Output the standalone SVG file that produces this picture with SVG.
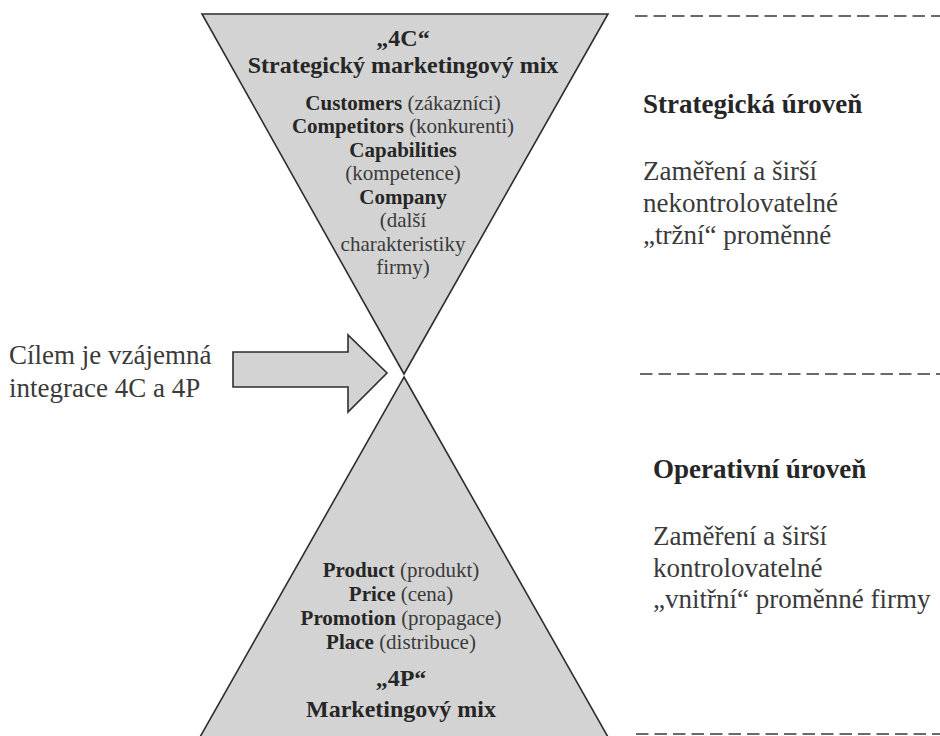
<svg xmlns="http://www.w3.org/2000/svg" width="940" height="736" viewBox="0 0 940 736">
<style>
.shape{fill:#d3d3d3;stroke:#2e2e2e;stroke-width:1.6;stroke-linejoin:miter}
.dash{stroke:#6a6a6a;stroke-width:2;stroke-dasharray:12.5 6;fill:none}
text{font-family:"Liberation Serif","Times New Roman",serif;fill:#262626}
.c{text-anchor:middle}
.b{font-weight:bold}
.h{font-size:24px;font-weight:bold}
.li{font-size:21px}
.lg{font-size:27px}
.r{font-weight:normal;fill:#3a3a3a}
</style>
<rect width="940" height="736" fill="#ffffff"/>
<g id="levels">
<line class="dash" x1="635" y1="16" x2="940" y2="16"/>
<line class="dash" x1="640" y1="374" x2="940" y2="374"/>
<line class="dash" x1="636" y1="734" x2="940" y2="734"/>
</g>
<g id="top-4c">
<polygon class="shape" points="202,14 608,14 404,374"/>
<text class="c h" x="403" y="46">„4C“</text>
<text class="c h" x="403" y="73">Strategický marketingový mix</text>
<text class="c li" x="403" y="110"><tspan class="b">Customers</tspan><tspan class="r"> (zákazníci)</tspan></text>
<text class="c li" x="403" y="133"><tspan class="b">Competitors</tspan><tspan class="r"> (konkurenti)</tspan></text>
<text class="c li b" x="403" y="157">Capabilities</text>
<text class="c li r" x="403" y="180">(kompetence)</text>
<text class="c li b" x="403" y="204">Company</text>
<text class="c li r" x="403" y="227">(další</text>
<text class="c li r" x="403" y="251">charakteristiky</text>
<text class="c li r" x="403" y="274">firmy)</text>
</g>
<g id="bottom-4p">
<polygon class="shape" points="404,377 608,737 200,737"/>
<text class="c li" x="401" y="577"><tspan class="b">Product</tspan><tspan class="r"> (produkt)</tspan></text>
<text class="c li" x="401" y="601"><tspan class="b">Price</tspan><tspan class="r"> (cena)</tspan></text>
<text class="c li" x="401" y="625"><tspan class="b">Promotion</tspan><tspan class="r"> (propagace)</tspan></text>
<text class="c li" x="401" y="649"><tspan class="b">Place</tspan><tspan class="r"> (distribuce)</tspan></text>
<text class="c h" x="401" y="686">„4P“</text>
<text class="c h" x="401" y="717">Marketingový mix</text>
</g>
<g id="arrow">
<polygon class="shape" points="233,352 348,352 348,335 387,373 348,412 348,387 233,387"/>
</g>
<g id="goal-label">
<text class="lg r" x="9" y="364">Cílem je vzájemná</text>
<text class="lg r" x="9" y="397">integrace 4C a 4P</text>
</g>
<g id="strategic-level">
<text class="lg b" x="643" y="113">Strategická úroveň</text>
<text class="lg r" x="643" y="180">Zaměření a širší</text>
<text class="lg r" x="643" y="212">nekontrolovatelné</text>
<text class="lg r" x="643" y="244">„tržní“ proměnné</text>
</g>
<g id="operative-level">
<text class="lg b" x="653" y="478">Operativní úroveň</text>
<text class="lg r" x="653" y="545">Zaměření a širší</text>
<text class="lg r" x="653" y="577">kontrolovatelné</text>
<text class="lg r" x="653" y="608">„vnitřní“ proměnné firmy</text>
</g>
</svg>
